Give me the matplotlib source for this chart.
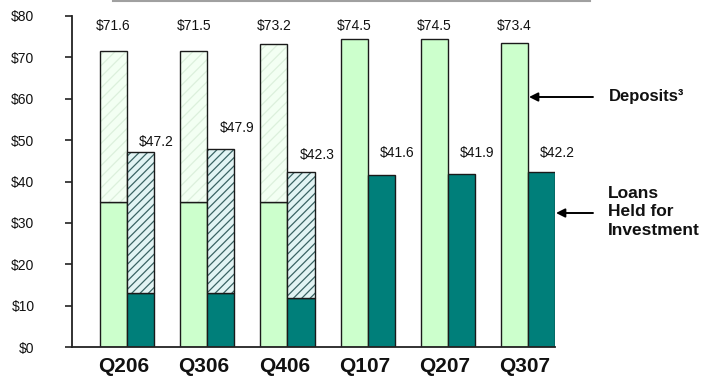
import matplotlib
matplotlib.use("Agg")
import matplotlib.pyplot as plt
from matplotlib.lines import Line2D
import numpy as np

plt.rcParams['font.family'] = ['Liberation Sans', 'DejaVu Sans']

quarters = ["Q206", "Q306", "Q406", "Q107", "Q207", "Q307"]
deposits = [71.6, 71.5, 73.2, 74.5, 74.5, 73.4]
loans = [47.2, 47.9, 42.3, 41.6, 41.9, 42.2]
# solid (base) portion of the first three quarters; remainder drawn hatched
deposits_base = [35.0, 35.0, 35.0, 74.5, 74.5, 73.4]
loans_base = [13.0, 13.0, 11.8, 41.6, 41.9, 42.2]
y_ticks = [0, 10, 20, 30, 40, 50, 60, 70, 80]
y_ticklabels = ["$0", "$10", "$20", "$30", "$40", "$50", "$60", "$70", "$80"]

# label placement (data units above each loan bar)
loan_label_gap = [2.4, 5.0, 4.1, 5.3, 5.0, 4.7]
deposit_label_y = 77.6

LIGHT = "#CCFFCC"
DARK = "#007F7A"
EDGE = "#1a1a1a"

W, H = 704, 385
fig = plt.figure(figsize=(W / 100, H / 100), dpi=100)
ax = fig.add_axes([72 / W, 38 / H, (555 - 72) / W, 331 / H])

x = np.arange(len(quarters))
bw = 0.3375

dep_base = np.array(deposits_base)
dep_top = np.array(deposits) - dep_base
ln_base = np.array(loans_base)
ln_top = np.array(loans) - ln_base

plt.rcParams['hatch.linewidth'] = 0.9

# deposits: solid base plus hatched upper part
ax.bar(x, dep_base, width=-bw, align='edge', color=LIGHT, edgecolor=EDGE, linewidth=1.0, zorder=2)
bars = ax.bar(x, dep_top, bottom=dep_base, width=-bw, align='edge',
              color="#F3FFF3", edgecolor=EDGE, linewidth=1.0, zorder=2)
for b, h in zip(bars, dep_top):
    if h > 0:
        b.set_hatch("///")
        b._hatch_color = matplotlib.colors.to_rgba("#DCF0DC")
    else:
        b.set_visible(False)

# loans: solid base plus hatched upper part
ax.bar(x, ln_base, width=bw, align='edge', color=DARK, edgecolor=EDGE, linewidth=1.0, zorder=2)
bars = ax.bar(x, ln_top, bottom=ln_base, width=bw, align='edge',
              color="#E2F4F4", edgecolor=EDGE, linewidth=1.0, zorder=2)
for b, h in zip(bars, ln_top):
    if h > 0:
        b.set_hatch("////")
        b._hatch_color = matplotlib.colors.to_rgba("#3A6464")
    else:
        b.set_visible(False)

# value labels
for xi, v in zip(x, deposits):
    ax.text(xi - bw / 2, deposit_label_y, f"${v:.1f}", ha='center', va='center', fontsize=10, color="#111")
for xi, v, g in zip(x, loans, loan_label_gap):
    ax.text(xi + bw + 0.03, v + g, f"${v:.1f}", ha='center', va='center', fontsize=10, color="#111")

ax.set_xlim(-0.6875, x[-1] + bw)
ax.set_ylim(0, 80)
ax.set_yticks(y_ticks)
ax.set_yticklabels(y_ticklabels, fontsize=10, color="#111")
ax.set_xticks(x - 0.04)
ax.set_xticklabels(quarters, fontsize=15, fontweight='bold', color="#111")
ax.tick_params(axis='x', length=0, pad=7.5)
ax.tick_params(axis='y', direction='out', length=5, width=1.2, pad=22, color="#222")
for s in ("top", "right"):
    ax.spines[s].set_visible(False)
for s in ("left", "bottom"):
    ax.spines[s].set_linewidth(1.3)
    ax.spines[s].set_color("#222")

# annotations on the right
ap = dict(arrowstyle='-|>', mutation_scale=13, color='black', lw=1.4, shrinkA=0, shrinkB=0)
ax.annotate("", xy=(529, H - 97), xytext=(593, H - 97),
            xycoords='figure pixels', textcoords='figure pixels', arrowprops=ap, annotation_clip=False)
ax.annotate("", xy=(556, H - 213), xytext=(593, H - 213),
            xycoords='figure pixels', textcoords='figure pixels', arrowprops=ap, annotation_clip=False)
fig.text(609 / W, (H - 97) / H, "Deposits³", ha='left', va='center', fontsize=12, fontweight='bold', color="#111")
fig.text(608 / W, (H - 212) / H, "Loans\nHeld for\nInvestment", ha='left', va='center',
         fontsize=12.5, fontweight='bold', color="#111", linespacing=1.3)

# thin grey rule along the top edge
fig.add_artist(Line2D([113 / W, 590 / W], [(H - 0.7) / H] * 2, color="#A0A0A0", lw=1.5))

fig.savefig("out.png", dpi=100)
